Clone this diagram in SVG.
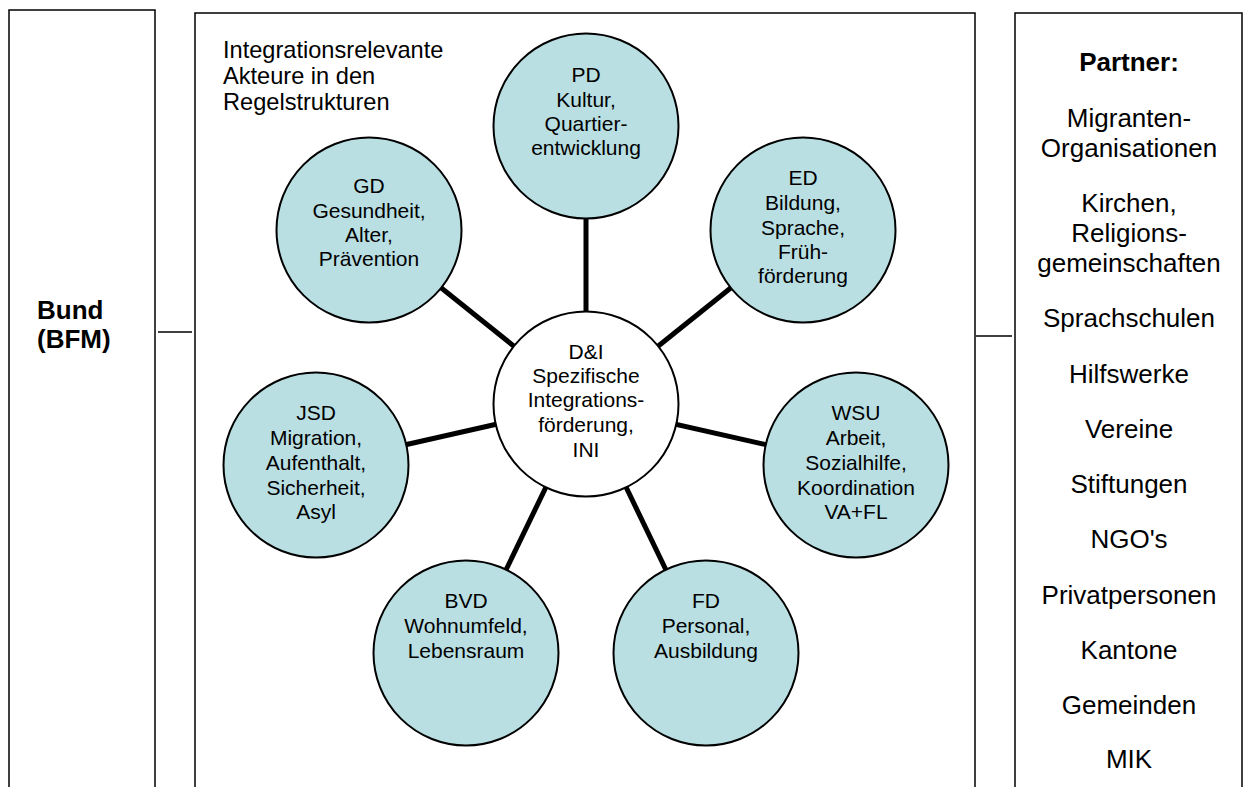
<svg xmlns="http://www.w3.org/2000/svg" width="1244" height="787" viewBox="0 0 1244 787">
<style>
.box{fill:#fff;stroke:#000;stroke-width:1.5}
.link{stroke:#000;stroke-width:1.5}
.spoke{stroke:#000;stroke-width:5}
.node{fill:#b9dfe3;stroke:#000;stroke-width:2}
.hub{fill:#fff;stroke:#000;stroke-width:2}
text{font-family:"Liberation Sans",Arial,Helvetica,sans-serif;fill:#000}
.c{font-size:21px;text-anchor:middle}
.p{font-size:26px;text-anchor:middle}
.b{font-size:26px;font-weight:bold}
.h{font-size:23.6px}
</style>
<rect width="1244" height="787" fill="#fff"/>
<g id="bund">
<path class="box" d="M9,800 V10 H155 V800"/>
<text class="b" x="37" y="319">Bund</text>
<text class="b" x="37" y="348">(BFM)</text>
</g>
<g id="regelstrukturen">
<path class="box" d="M195,800 V13 H975 V800"/>
<text class="h" x="223" y="58">Integrationsrelevante</text>
<text class="h" x="223" y="84">Akteure in den</text>
<text class="h" x="223" y="110">Regelstrukturen</text>
</g>
<g id="partner">
<path class="box" d="M1015,800 V13 H1242 V800"/>
<text class="p" x="1129" y="71" font-weight="bold">Partner:</text>
<text class="p" x="1129" y="127">Migranten-</text>
<text class="p" x="1129" y="157">Organisationen</text>
<text class="p" x="1129" y="212">Kirchen,</text>
<text class="p" x="1129" y="242">Religions-</text>
<text class="p" x="1129" y="272">gemeinschaften</text>
<text class="p" x="1129" y="327">Sprachschulen</text>
<text class="p" x="1129" y="383">Hilfswerke</text>
<text class="p" x="1129" y="438">Vereine</text>
<text class="p" x="1129" y="493">Stiftungen</text>
<text class="p" x="1129" y="548">NGO's</text>
<text class="p" x="1129" y="604">Privatpersonen</text>
<text class="p" x="1129" y="659">Kantone</text>
<text class="p" x="1129" y="714">Gemeinden</text>
<text class="p" x="1129" y="768">MIK</text>
</g>
<g id="connectors">
<line class="link" x1="158" y1="332" x2="192" y2="332"/>
<line class="link" x1="976" y1="336" x2="1012" y2="336"/>
<line class="spoke" x1="586" y1="404" x2="586" y2="126"/>
<line class="spoke" x1="586" y1="404" x2="369" y2="230"/>
<line class="spoke" x1="586" y1="404" x2="803" y2="230"/>
<line class="spoke" x1="586" y1="404" x2="316" y2="465"/>
<line class="spoke" x1="586" y1="404" x2="856" y2="465"/>
<line class="spoke" x1="586" y1="404" x2="466" y2="653"/>
<line class="spoke" x1="586" y1="404" x2="706" y2="653"/>
</g>
<g id="pd">
<circle class="node" cx="586" cy="126" r="92.5"/>
<text class="c" x="586" y="82">PD</text>
<text class="c" x="586" y="107">Kultur,</text>
<text class="c" x="586" y="131">Quartier-</text>
<text class="c" x="586" y="155">entwicklung</text>
</g>
<g id="gd">
<circle class="node" cx="369" cy="230" r="92.5"/>
<text class="c" x="369" y="193">GD</text>
<text class="c" x="369" y="218">Gesundheit,</text>
<text class="c" x="369" y="242">Alter,</text>
<text class="c" x="369" y="266">Prävention</text>
</g>
<g id="ed">
<circle class="node" cx="803" cy="230" r="92.5"/>
<text class="c" x="803" y="185">ED</text>
<text class="c" x="803" y="210">Bildung,</text>
<text class="c" x="803" y="235">Sprache,</text>
<text class="c" x="803" y="259">Früh-</text>
<text class="c" x="803" y="283">förderung</text>
</g>
<g id="jsd">
<circle class="node" cx="316" cy="465" r="92.5"/>
<text class="c" x="316" y="420">JSD</text>
<text class="c" x="316" y="445">Migration,</text>
<text class="c" x="316" y="470">Aufenthalt,</text>
<text class="c" x="316" y="495">Sicherheit,</text>
<text class="c" x="316" y="519">Asyl</text>
</g>
<g id="wsu">
<circle class="node" cx="856" cy="465" r="92.5"/>
<text class="c" x="856" y="420">WSU</text>
<text class="c" x="856" y="445">Arbeit,</text>
<text class="c" x="856" y="470">Sozialhilfe,</text>
<text class="c" x="856" y="495">Koordination</text>
<text class="c" x="856" y="519">VA+FL</text>
</g>
<g id="bvd">
<circle class="node" cx="466" cy="653" r="92.5"/>
<text class="c" x="466" y="608">BVD</text>
<text class="c" x="466" y="633">Wohnumfeld,</text>
<text class="c" x="466" y="658">Lebensraum</text>
</g>
<g id="fd">
<circle class="node" cx="706" cy="653" r="92.5"/>
<text class="c" x="706" y="608">FD</text>
<text class="c" x="706" y="633">Personal,</text>
<text class="c" x="706" y="658">Ausbildung</text>
</g>
<g id="di">
<circle class="hub" cx="586" cy="404" r="92.5"/>
<text class="c" x="586" y="359">D&amp;I</text>
<text class="c" x="586" y="383">Spezifische</text>
<text class="c" x="586" y="407">Integrations-</text>
<text class="c" x="586" y="432">förderung,</text>
<text class="c" x="586" y="457">INI</text>
</g>
</svg>
